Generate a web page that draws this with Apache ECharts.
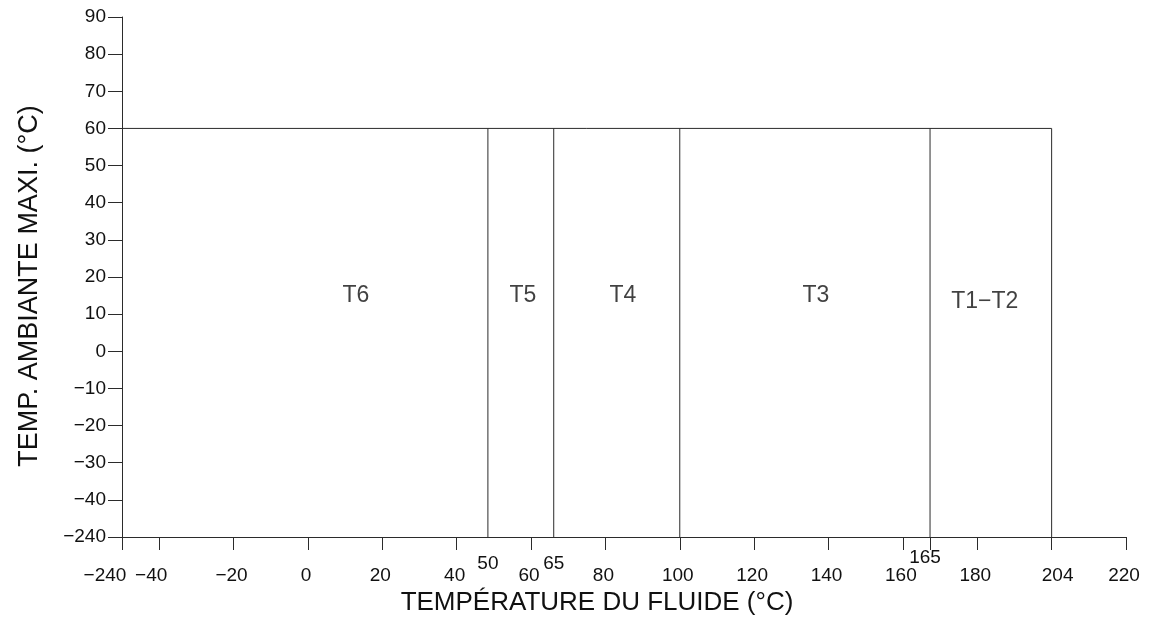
<!DOCTYPE html>
<html>
<head>
<meta charset="utf-8">
<script src="https://cdn.jsdelivr.net/npm/echarts@6/dist/echarts.min.js"></script>
<style>
html,body{margin:0;padding:0;background:#fff;}
#chart{width:1155px;height:617px;}
</style>
</head>
<body>
<div id="chart"></div>
<script>
// ---- data ----
const xMin = -50, xMax = 220;          // axis break: left end labelled -240
const yMin = -50, yMax = 90;           // axis break: bottom labelled -240
const ceilingY = 60;                   // max ambient temperature
const boundaryX = [48.4, 66.1, 100, 167.3, 200];   // zone boundaries (positions on axis)
const zoneNames = ['T6', 'T5', 'T4', 'T3', 'T1−T2'];
const zoneLabelX = [12.9, 57.8, 84.7, 136.6, 182];
const zoneLabelY = [15.0, 15.0, 15.0, 15.0, 13.3];
const xMainTicks = [-50, -40, -20, 0, 20, 40, 60, 80, 100, 120, 140, 160, 167.3, 180, 200, 220];
const xMainLabelVals = [-50, -40, -20, 0, 20, 40, 60, 80, 100, 120, 140, 160, 180, 200, 220];
const xMainLabelText = ['−240', '−40', '−20', '0', '20', '40', '60', '80', '100', '120', '140', '160', '180', '204', '220'];
const xRaisedVals = [48.4, 66.1];
const xRaisedText = ['50', '65'];
const xRaised2Vals = [167.3];
const xRaised2Text = ['165'];
const yBreakLabel = '−240';

const LINE = '#2b2b2b';
const tickFont = {fontFamily: 'Liberation Sans', fontSize: 19, color: '#111'};

function lookup(vals, texts, v) {
  for (let i = 0; i < vals.length; i++) if (Math.abs(vals[i] - v) < 1e-6) return texts[i];
  return '';
}

const series = [];
series.push({
  type: 'line', silent: true, symbol: 'none', animation: false,
  lineStyle: {color: LINE, width: 1},
  data: [[xMin, ceilingY], [boundaryX[boundaryX.length - 1], ceilingY]]
});
boundaryX.forEach(function (bx) {
  series.push({
    type: 'line', silent: true, symbol: 'none', animation: false,
    lineStyle: {color: LINE, width: 1},
    data: [[bx, yMin], [bx, ceilingY]]
  });
});
series.push({
  type: 'scatter', silent: true, symbolSize: 0, animation: false,
  data: zoneNames.map(function (n, i) { return {name: n, value: [zoneLabelX[i], zoneLabelY[i]]}; }),
  label: {
    show: true, position: 'inside', formatter: '{b}',
    fontFamily: 'Liberation Sans', fontSize: 23, color: '#111'
  }
});

const baseX = {
  type: 'value', gridIndex: 0, position: 'bottom', min: xMin, max: xMax,
  splitLine: {show: false}
};

const option = {
  animation: false,
  backgroundColor: '#fff',
  grid: {left: 122, right: 29, top: 17, bottom: 80, containLabel: false, outerBoundsMode: 'none'},
  xAxis: [
    Object.assign({}, baseX, {
      name: 'TEMPÉRATURE DU FLUIDE (°C)',
      nameLocation: 'middle',
      nameGap: 48,
      nameTextStyle: {fontFamily: 'Liberation Sans', fontSize: 26, color: '#111', padding: [0, 54, 0, 0]},
      axisLine: {show: true, onZero: false, lineStyle: {color: LINE, width: 1}},
      axisTick: {show: true, length: 13, inside: false, customValues: xMainTicks, lineStyle: {color: LINE, width: 1}},
      axisLabel: Object.assign({}, tickFont, {
        margin: 29,
        customValues: xMainLabelVals,
        formatter: function (v) {
          const t = lookup(xMainLabelVals, xMainLabelText, v);
          if (v === -50) return '{a|' + t + '}';
          if (v === -40) return '{b|' + t + '}';
          if (v === 200) return '{c|' + t + '}';
          return '{d|' + t + '}';
        },
        rich: {
          a: Object.assign({}, tickFont, {padding: [0, 34, 0, 0]}),
          b: Object.assign({}, tickFont, {padding: [0, 16, 0, 0]}),
          c: Object.assign({}, tickFont, {padding: [0, 0, 0, 12]}),
          d: Object.assign({}, tickFont, {padding: [0, 4, 0, 0]})
        }
      })
    }),
    Object.assign({}, baseX, {
      axisLine: {show: false, onZero: false}, axisTick: {show: false},
      axisLabel: Object.assign({}, tickFont, {
        margin: 17, customValues: xRaisedVals,
        formatter: function (v) { return lookup(xRaisedVals, xRaisedText, v); }
      })
    }),
    Object.assign({}, baseX, {
      axisLine: {show: false, onZero: false}, axisTick: {show: false},
      axisLabel: Object.assign({}, tickFont, {
        margin: 11, customValues: xRaised2Vals,
        formatter: function (v) { return '{e|' + lookup(xRaised2Vals, xRaised2Text, v) + '}'; },
        rich: {e: Object.assign({}, tickFont, {padding: [0, 10, 0, 0]})}
      })
    })
  ],
  yAxis: {
    type: 'value', min: yMin, max: yMax, interval: 10,
    name: 'TEMP. AMBIANTE MAXI. (°C)',
    nameLocation: 'middle',
    nameGap: 79,
    nameTextStyle: {fontFamily: 'Liberation Sans', fontSize: 27, color: '#111', padding: [0, 18, 0, 0]},
    splitLine: {show: false},
    axisLine: {show: true, onZero: false, lineStyle: {color: LINE, width: 1}},
    axisTick: {show: true, length: 14, inside: false, lineStyle: {color: LINE, width: 1}},
    axisLabel: Object.assign({}, tickFont, {
      margin: 16,
      formatter: function (v) { return v === yMin ? yBreakLabel : String(v).replace('-', '−'); }
    })
  },
  series: series
};

const chart = echarts.init(document.getElementById('chart'), null, {renderer: 'canvas'});
chart.setOption(option);
</script>
</body>
</html>
